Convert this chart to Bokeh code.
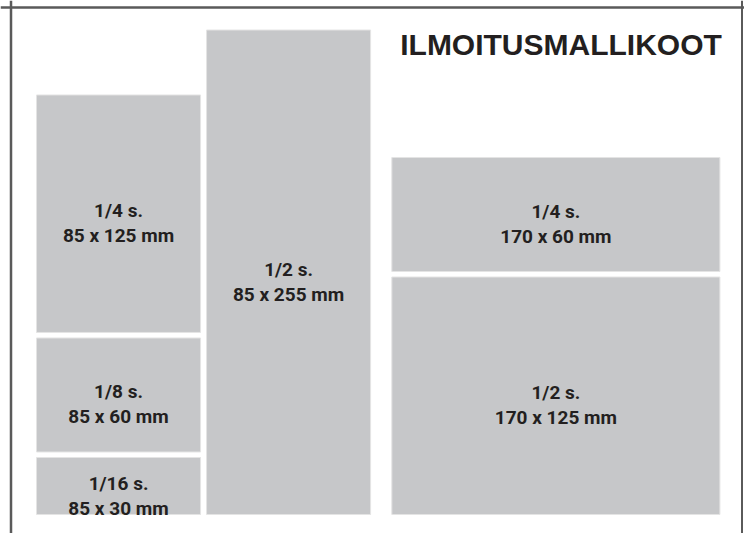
from bokeh.plotting import figure
from bokeh.models import Range1d, ColumnDataSource, Span
from bokeh.core.properties import value
from bokeh.embed import file_html
from bokeh.resources import INLINE

# ---- data (mm), listed bottom-up within each column ----
fractions = ["1/16 s.", "1/8 s.", "1/4 s.", "1/2 s.", "1/2 s.", "1/4 s."]
widths_mm = [85, 85, 85, 85, 170, 170]
heights_mm = [30, 60, 125, 255, 125, 60]
columns = [0, 0, 0, 1, 2, 2]
title = "ILMOITUSMALLIKOOT"

# ---- layout ----
W, H = 744, 533
sx, sy = 1.93, 1.9          # px per mm
gap_cols = [3.1, 11.0]      # mm between columns
vgap = 2.9                  # mm between stacked blocks

col_w = {}
for c, w in zip(columns, widths_mm):
    col_w[c] = max(col_w.get(c, 0), w)
col_left = {0: 0.0}
for c in sorted(col_w)[1:]:
    col_left[c] = col_left[c - 1] + col_w[c - 1] + gap_cols[c - 1]

xs, ys, bottoms, tops, lefts, rights = [], [], [], [], [], []
next_bottom = {}
for c, w, h in zip(columns, widths_mm, heights_mm):
    b = next_bottom.get(c, 0.0)
    t = b + h
    next_bottom[c] = t + vgap
    l = col_left[c]
    lefts.append(l); rights.append(l + w)
    bottoms.append(b); tops.append(t)
    xs.append(l + w / 2); ys.append(b + h / 2)

sizes = [f"{w} x {h} mm" for w, h in zip(widths_mm, heights_mm)]

src = ColumnDataSource(dict(left=lefts, right=rights, bottom=bottoms, top=tops,
                            x=xs, y=ys, frac=fractions, size=sizes))

x0 = -36 / sx
y0 = -(H - 514) / sy
p = figure(width=W, height=H, output_backend="svg", toolbar_location=None,
           x_range=Range1d(x0, x0 + W / sx), y_range=Range1d(y0, y0 + H / sy),
           min_border=0, background_fill_color="white", border_fill_color="white",
           outline_line_color=None)
p.axis.visible = False
p.grid.visible = False

p.quad(left="left", right="right", bottom="bottom", top="top", source=src,
       fill_color="#c6c7c9", line_color="#e4e4e4", line_width=1)

font = value("Roboto")
p.text(x="x", y="y", text="frac", source=src, text_font=font, text_font_style="bold",
       text_font_size="19px", text_color="#231f20", text_align="center",
       text_baseline="alphabetic", y_offset=-3)
p.text(x="x", y="y", text="size", source=src, text_font=font, text_font_style="bold",
       text_font_size="19px", text_color="#231f20", text_align="center",
       text_baseline="alphabetic", y_offset=22)

p.text(x=[max(rights) + 1], y=[max(tops) - 7.6], text=[title], text_font=value("Liberation Sans"),
       text_font_style="bold", text_font_size="30px", text_color="#231f20",
       text_align="right", text_baseline="alphabetic")

# frame border (left, top, right)
xr, yr = p.x_range, p.y_range
p.add_layout(Span(location=xr.start + 10.5 / sx, dimension="height", line_color="#5a5a5a", line_width=2.5))
p.add_layout(Span(location=xr.end - 2.5 / sx, dimension="height", line_color="#5a5a5a", line_width=2))
p.add_layout(Span(location=yr.end - 7.0 / sy, dimension="width", line_color="#5a5a5a", line_width=2.5))

open("out.html", "w").write(file_html(p, INLINE))
